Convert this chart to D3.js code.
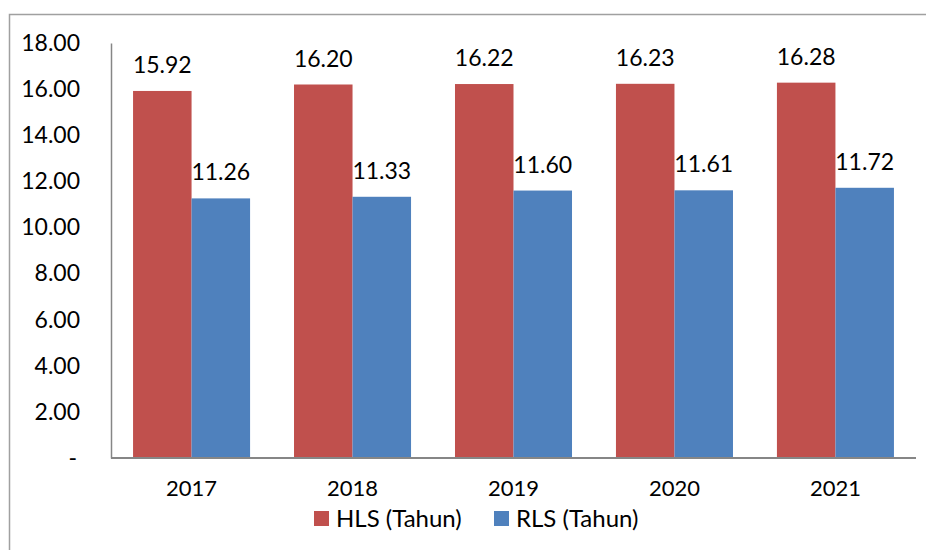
<!DOCTYPE html>
<html lang="id">
<head>
  <meta charset="UTF-8">
  <title>HLS dan RLS</title>
  <script src="https://d3js.org/d3.v7.min.js"></script>
  <style>
    body { margin: 0; background: #fff; }
    text { font-family: Lato, "Open Sans", sans-serif; fill: #000; }
    .axis path, .axis line { stroke: #868686; }
  </style>
</head>
<body>
  <div id="chart"></div>
  <script>
    // data
    const years = ["2017", "2018", "2019", "2020", "2021"];
    const hls = [15.92, 16.20, 16.22, 16.23, 16.28];
    const rls = [11.26, 11.33, 11.60, 11.61, 11.72];
    const seriesNames = ["HLS (Tahun)", "RLS (Tahun)"];
    const colors = ["#C0504D", "#4F81BD"];
    const yTicks = [0, 2, 4, 6, 8, 10, 12, 14, 16, 18];

    const width = 926, height = 550;
    const margin = { top: 43, right: 10, bottom: 92, left: 111 };

    const svg = d3.select("#chart").append("svg")
      .attr("width", width)
      .attr("height", height);

    // outer frame
    svg.append("rect")
      .attr("x", 9.5).attr("y", 14.5)
      .attr("width", width + 20).attr("height", height + 20)
      .attr("fill", "none").attr("stroke", "#a0a0a0").attr("stroke-width", 1.5);

    const x0 = d3.scaleBand()
      .domain(years)
      .range([margin.left, width - margin.right])
      .paddingInner(0.273).paddingOuter(0.137);

    const x1 = d3.scaleBand()
      .domain([0, 1])
      .range([0, x0.bandwidth()]);

    const y = d3.scaleLinear()
      .domain([0, 18])
      .range([height - margin.bottom, margin.top]);

    // bars
    const series = [hls, rls];
    series.forEach((vals, s) => {
      svg.append("g").selectAll("rect")
        .data(vals)
        .join("rect")
        .attr("x", (d, i) => x0(years[i]) + x1(s))
        .attr("y", d => y(d))
        .attr("width", x1.bandwidth())
        .attr("height", d => y(0) - y(d))
        .attr("fill", colors[s]);

      svg.append("g").selectAll("text")
        .data(vals)
        .join("text")
        .attr("x", (d, i) => x0(years[i]) + x1(s) + x1.bandwidth() / 2)
        .attr("y", d => y(d) - 18)
        .attr("text-anchor", "middle")
        .style("font-size", "23px")
        .text(d => d.toFixed(2));
    });

    // y axis
    const yAxis = svg.append("g")
      .attr("class", "axis")
      .attr("transform", `translate(${margin.left},0)`)
      .call(d3.axisLeft(y).tickValues(yTicks).tickSize(0).tickPadding(31)
        .tickFormat(d => d === 0 ? "-" : d.toFixed(2)));
    yAxis.select(".domain").attr("stroke-width", 1.5);
    yAxis.selectAll("text")
      .style("font-size", "23px")
      .attr("dx", d => d === 0 ? -3 : 0);

    // x axis
    const xAxis = svg.append("g")
      .attr("class", "axis")
      .attr("transform", `translate(0,${y(0)})`)
      .call(d3.axisBottom(x0).tickSize(0).tickPadding(22));
    xAxis.select(".domain").attr("stroke-width", 2)
      .attr("d", `M${margin.left},0H${width - margin.right}`);
    xAxis.selectAll("text").style("font-size", "22px");

    // legend
    const legendX = [314, 494];
    const legend = svg.append("g").selectAll("g")
      .data(seriesNames)
      .join("g")
      .attr("transform", (d, i) => `translate(${legendX[i]},511)`);
    legend.append("rect")
      .attr("width", 15).attr("height", 15)
      .attr("fill", (d, i) => colors[i]);
    legend.append("text")
      .attr("x", 22).attr("y", 8)
      .attr("dy", "0.35em")
      .style("font-size", "24px")
      .text(d => d);
  </script>
</body>
</html>
